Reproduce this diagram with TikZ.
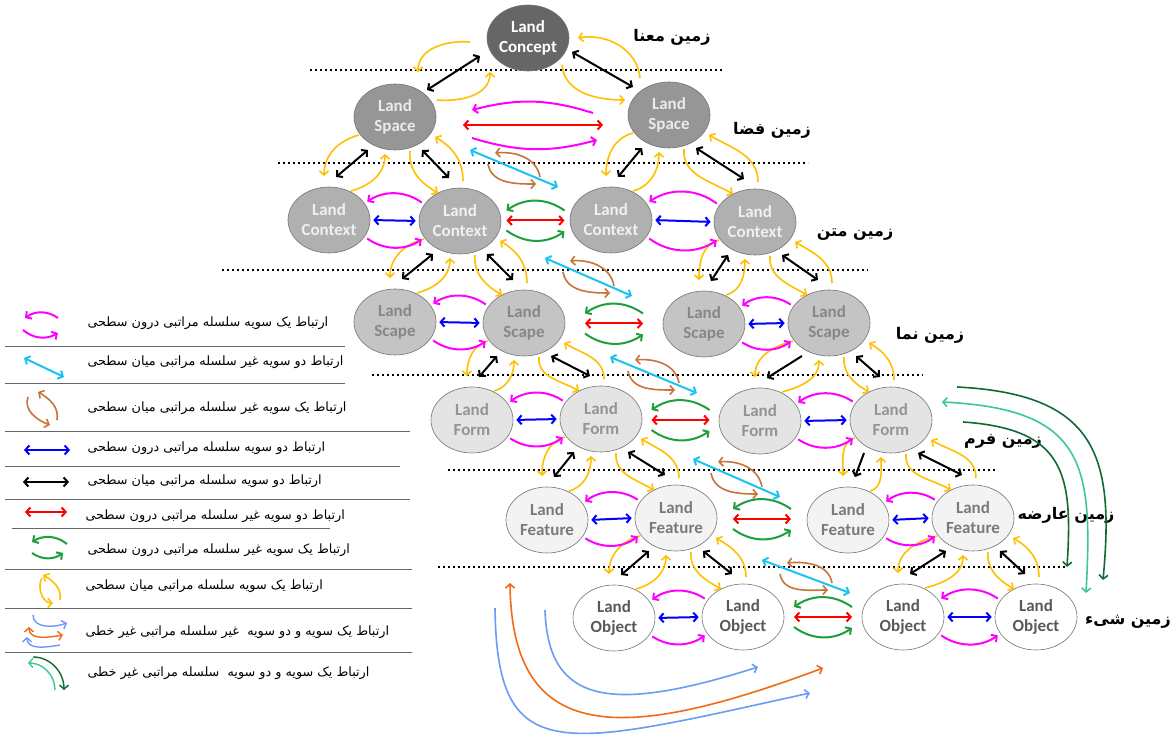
\documentclass[tikz,border=0pt]{standalone}
\usepackage{fontspec}
\usetikzlibrary{arrows.meta,calc,shapes.geometric}
\newfontfamily\arabicfont[Script=Arabic]{DejaVu Sans}
\newfontfamily\landfont{Carlito}
\TeXXeTstate=1

\definecolor{MYellow}{HTML}{FFC000}
\definecolor{MMagenta}{HTML}{FF00FF}
\definecolor{MBlue}{HTML}{0000FF}
\definecolor{MRed}{HTML}{FF0000}
\definecolor{MLeaf}{HTML}{1E9E3C}
\definecolor{MCyan}{HTML}{1AC4F2}
\definecolor{MBrown}{HTML}{C8733A}
\definecolor{MSky}{HTML}{6C9BF5}
\definecolor{MOrange}{HTML}{F26A16}
\definecolor{MDeep}{HTML}{0E6B34}
\definecolor{MSea}{HTML}{3DC794}

\definecolor{LConcept}{HTML}{666666}
\definecolor{LSpace}{HTML}{969696}
\definecolor{LContext}{HTML}{B0B0B0}
\definecolor{LScape}{HTML}{C4C4C4}
\definecolor{LForm}{HTML}{E4E4E4}
\definecolor{LFeature}{HTML}{F3F3F3}

\tikzset{
	>={Straight Barb[length=4pt,width=9pt]},
	land/.style={ellipse, draw=black!55, line width=0.6pt, minimum width=82pt, minimum height=66pt, inner sep=0pt, align=center, font=\landfont\bfseries\fontsize{17}{20}\selectfont},
	conceptnode/.style={land, fill=LConcept, text=white},
	spacenode/.style={land, fill=LSpace, text=black!8},
	contextnode/.style={land, fill=LContext, text=black!6},
	scapenode/.style={land, fill=LScape, text=black!47},
	formnode/.style={land, fill=LForm, text=black!42},
	featurenode/.style={land, fill=LFeature, text=black!52},
	objectnode/.style={land, fill=white, text=black!65},
	levelname/.style={font=\arabicfont\bfseries\fontsize{16}{19}\selectfont},
	legtext/.style={anchor=west, font=\arabicfont\fontsize{12.8}{15}\selectfont},
	levelline/.style={line width=1.3pt, dash pattern=on 2pt off 3pt},
	sepline/.style={black!60, line width=1pt},
	gap/.style={shorten <=3pt, shorten >=3pt},
	yel/.style={MYellow, line width=1.6pt, ->},
	blk/.style={black, line width=2pt},
	mag/.style={MMagenta, line width=2pt, ->},
	grn/.style={MLeaf, line width=2pt, ->},
	blu/.style={MBlue, line width=2pt, <->},
	rd/.style={MRed, line width=2pt, <->},
	cyn/.style={MCyan, line width=2pt, <->},
	brn/.style={MBrown, line width=1.6pt, ->},
}

% parent to lower left child, parent to lower right child
\newcommand{\lpair}[3]{%
	\draw[yel] ($(#1)+(-36,-18)$) to[out=195,in=90] ($(#2)+(-5,44)$);
	\draw[blk,#3] ($(#1)+(-27,-33)$) -- ($(#2)+(7,43)$);
	\draw[yel] ($(#2)+(22,29)$) to[out=15,in=270] ($(#1)+(-10,-37)$);}
\newcommand{\rpair}[3]{%
	\draw[yel] ($(#1)+(15,-34)$) to[out=265,in=150] ($(#2)+(-22,28)$);
	\draw[blk,#3] ($(#1)+(27,-33)$) -- ($(#2)+(-11,43)$);
	\draw[yel] ($(#2)+(3,40)$) to[out=90,in=330] ($(#1)+(40,-20)$);}
% links inside one level
\newcommand{\sibling}[2]{%
	\draw[mag,gap] (#2.155) to[bend right=35] (#1.25);
	\draw[blu,gap] (#1.east) -- (#2.west);
	\draw[mag,gap] (#1.335) to[bend right=35] (#2.205);}
\newcommand{\cousin}[2]{%
	\coordinate (mid) at ($(#1.east)!0.5!(#2.west)$);
	\draw[grn] ($(mid)+(29,10)$) to[bend right=35] ($(mid)+(-29,10)$);
	\draw[rd] ($(mid)+(-29,0)$) -- ($(mid)+(29,0)$);
	\draw[grn] ($(mid)+(-29,-10)$) to[bend right=35] ($(mid)+(29,-11)$);}
% non hierarchical link between levels
\newcommand{\nonhier}[2]{%
	\draw[cyn] (#1) -- (#2);
	\draw[brn] ($(#2)+(-18,10)$) to[out=100,in=5] ($(#1)+(25,-3)$);
	\draw[brn] ($(#1)+(18,-14)$) to[out=280,in=180] ($(#2)+(-22,3)$);}

\begin{document}
\begin{tikzpicture}[x=1pt,y=1pt]
	\useasboundingbox (0,0) rectangle (1176,744);
	\fill[white] (0,0) rectangle (1176,744);

	% level lines
	\draw[levelline] (310,674) -- (723,674);
	\draw[levelline] (278,581) -- (808,581);
	\draw[levelline] (222,474) -- (868,474);
	\draw[levelline] (372,369) -- (923,369);
	\draw[levelline] (448,274) -- (998,274);
	\draw[levelline] (438,177) -- (1067,177);

	% nodes
	\node[conceptnode] (concept) at (528,706) {Land\\Concept};
	\node[spacenode] (space1) at (395,627) {Land\\Space};
	\node[spacenode] (space2) at (669,629) {Land\\Space};
	\node[contextnode] (context1) at (329,524) {Land\\Context};
	\node[contextnode] (context2) at (460,523) {Land\\Context};
	\node[contextnode] (context3) at (611,524) {Land\\Context};
	\node[contextnode] (context4) at (755,522) {Land\\Context};
	\node[scapenode] (scape1) at (395,422) {Land\\Scape};
	\node[scapenode] (scape2) at (524,421) {Land\\Scape};
	\node[scapenode] (scape3) at (704,420) {Land\\Scape};
	\node[scapenode] (scape4) at (829,421) {Land\\Scape};
	\node[formnode] (form1) at (472,324) {Land\\Form};
	\node[formnode] (form2) at (601,325) {Land\\Form};
	\node[formnode] (form3) at (760,323) {Land\\Form};
	\node[formnode] (form4) at (891,324) {Land\\Form};
	\node[featurenode] (feature1) at (547,224) {Land\\Feature};
	\node[featurenode] (feature2) at (676,226) {Land\\Feature};
	\node[featurenode] (feature3) at (848,224) {Land\\Feature};
	\node[featurenode] (feature4) at (973,226) {Land\\Feature};
	\node[objectnode] (object1) at (614,126) {Land\\Object};
	\node[objectnode] (object2) at (743,127) {Land\\Object};
	\node[objectnode] (object3) at (903,127) {Land\\Object};
	\node[objectnode] (object4) at (1036,127) {Land\\Object};

	% level names
	\node[levelname] (lv1) at (672,707) {\beginR زمین معنا\endR};
	\node[levelname] (lv2) at (772,614) {\beginR زمین فضا\endR};
	\node[levelname] (lv3) at (855,509) {\beginR زمین متن\endR};
	\node[levelname] (lv4) at (930,409) {\beginR زمین نما\endR};
	\node[levelname] (lv5) at (1003,303) {\beginR زمین فرم\endR};
	\node[levelname] (lv6) at (1066,229) {\beginR زمین عارضه\endR};
	\node[levelname] (lv7) at (1128,122) {\beginR زمین شیء\endR};

	% concept to space
	\draw[yel] ($(concept)+(-58,-4)$) to[out=175,in=90] ($(space1)+(23,45)$);
	\draw[blk,<->] ($(concept)+(-48,-18)$) -- ($(space1)+(32,27)$);
	\draw[yel] ($(space1)+(42,17)$) to[out=-5,in=270] ($(concept)+(-38,-34)$);
	\draw[yel] ($(concept)+(34,-27)$) to[out=275,in=180] ($(space2)+(-44,15)$);
	\draw[blk,<->] ($(concept)+(44,-14)$) -- ($(space2)+(-36,28)$);
	\draw[yel] ($(space2)+(-29,37)$) to[out=95,in=10] ($(concept)+(50,0)$);

	% hierarchy between levels
	\lpair{space1}{context1}{<->}
	\rpair{space1}{context2}{<->}
	\lpair{space2}{context3}{<->}
	\rpair{space2}{context4}{<->}
	\lpair{context2}{scape1}{<->}
	\rpair{context2}{scape2}{<->}
	\lpair{context4}{scape3}{<->}
	\rpair{context4}{scape4}{<->}
	\lpair{scape2}{form1}{<->}
	\rpair{scape2}{form2}{<->}
	\lpair{scape4}{form3}{->}
	\rpair{scape4}{form4}{<->}
	\lpair{form2}{feature1}{<->}
	\rpair{form2}{feature2}{<->}
	\lpair{form4}{feature3}{->}
	\rpair{form4}{feature4}{<->}
	\lpair{feature2}{object1}{<->}
	\rpair{feature2}{object2}{<->}
	\lpair{feature4}{object3}{<->}
	\rpair{feature4}{object4}{<->}

	% inside levels
	\draw[mag] ($(space2)+(-76,2)$) to[bend right=16] ($(space1)+(77,7)$);
	\draw[rd] ($(space1)+(68,-8)$) -- ($(space2)+(-66,-10)$);
	\draw[mag] ($(space1)+(77,-21)$) to[bend right=16] ($(space2)+(-72,-25)$);
	\sibling{context1}{context2}
	\cousin{context2}{context3}
	\sibling{context3}{context4}
	\sibling{scape1}{scape2}
	\cousin{scape2}{scape3}
	\sibling{scape3}{scape4}
	\sibling{form1}{form2}
	\cousin{form2}{form3}
	\sibling{form3}{form4}
	\sibling{feature1}{feature2}
	\cousin{feature2}{feature3}
	\sibling{feature3}{feature4}
	\sibling{object1}{object2}
	\cousin{object2}{object3}
	\sibling{object3}{object4}

	% across branches
	\coordinate (nh1a) at (470,594); \coordinate (nh1b) at (558,557);
	\coordinate (nh2a) at (545,486); \coordinate (nh2b) at (632,448);
	\coordinate (nh3a) at (610,387); \coordinate (nh3b) at (697,351);
	\coordinate (nh4a) at (693,285); \coordinate (nh4b) at (780,247);
	\coordinate (nh5a) at (762,184); \coordinate (nh5b) at (850,151);
	\nonhier{nh1a}{nh1b}
	\nonhier{nh2a}{nh2b}
	\nonhier{nh3a}{nh3b}
	\nonhier{nh4a}{nh4b}
	\nonhier{nh5a}{nh5b}

	% non linear links
	\draw[MSky, line width=1.6pt, ->] (495,136) .. controls (497,-25) and (560,-4) .. (810,51);
	\draw[MOrange, line width=1.6pt, <->] (510,161) .. controls (512,0) and (620,0) .. (823,76);
	\draw[MSky, line width=1.6pt, ->] (545,134) .. controls (548,40) and (610,30) .. (758,77);
	\draw[MDeep, line width=1.6pt, ->] (957,357) .. controls (1095,350) and (1115,290) .. (1103,164);
	\draw[MSea, line width=1.6pt, <->] (942,342) .. controls (1085,335) and (1093,280) .. (1086,151);
	\draw[MDeep, line width=1.6pt, ->] (963,322) .. controls (1065,315) and (1073,270) .. (1067,177);

	% legend
	\draw[sepline] (5,397) -- (345,397);
	\draw[sepline] (5,360) -- (345,360);
	\draw[sepline] (5,312) -- (410,312);
	\draw[sepline] (5,277) -- (400,277);
	\draw[sepline] (5,244) -- (410,244);
	\draw[sepline] (12,215) -- (330,215);
	\draw[sepline] (5,174) -- (412,174);
	\draw[sepline] (5,135) -- (412,135);
	\draw[sepline] (5,91) -- (412,91);

	\draw[mag] (58,426) to[bend right=35] (25,426);
	\draw[mag] (23,414) to[bend right=35] (58,411);
	\draw[cyn] (24,386) -- (64,367);
	\draw[brn] (28,347) to[out=250,in=160] (50,319);
	\draw[brn] (57,324) to[out=80,in=330] (38,352);
	\draw[blu] (24,294) -- (70,294);
	\draw[blk,<->] (23,262) -- (69,262);
	\draw[rd] (25,232) -- (67,232);
	\draw[grn] (67,200) to[bend right=35] (32,202);
	\draw[grn] (32,191) to[bend right=35] (63,191);
	\draw[yel] (42,166) to[out=240,in=180] (53,141);
	\draw[yel] (60,144) to[out=80,in=330] (43,169);
	\draw[MSky, line width=1.4pt, ->] (33,129) to[out=270,in=200] (67,121);
	\draw[MOrange, line width=1.4pt, <->] (29,117) to[out=270,in=190] (63,109);
	\draw[MSky, line width=1.4pt, <-] (27,107) to[out=270,in=190] (60,99);
	\draw[MSea, line width=1.4pt, <-] (28,81) to[out=0,in=90] (55,54);
	\draw[MDeep, line width=1.4pt, ->] (33,87) to[out=0,in=90] (64,54);

	\node[legtext] (lg1) at (84,421) {\beginR ارتباط یک سویه سلسله مراتبی درون سطحی\endR};
	\node[legtext] (lg2) at (84,382) {\beginR ارتباط دو سویه غیر سلسله مراتبی میان سطحی\endR};
	\node[legtext] (lg3) at (84,336) {\beginR ارتباط یک سویه غیر سلسله مراتبی میان سطحی\endR};
	\node[legtext] (lg4) at (84,296) {\beginR ارتباط دو سویه سلسله مراتبی درون سطحی\endR};
	\node[legtext] (lg5) at (84,263) {\beginR ارتباط دو سویه سلسله مراتبی میان سطحی\endR};
	\node[legtext] (lg6) at (82,228) {\beginR ارتباط دو سویه غیر سلسله مراتبی درون سطحی\endR};
	\node[legtext] (lg7) at (84,194) {\beginR ارتباط یک سویه غیر سلسله مراتبی درون سطحی\endR};
	\node[legtext] (lg8) at (82,158) {\beginR ارتباط یک سویه سلسله مراتبی میان سطحی\endR};
	\node[legtext] (lg9) at (82,112) {\beginR ارتباط یک سویه و دو سویه \ غیر سلسله مراتبی غیر خطی\endR};
	\node[legtext] (lg10) at (84,71) {\beginR ارتباط یک سویه و دو سویه \ سلسله مراتبی غیر خطی\endR};
\end{tikzpicture}
\end{document}
